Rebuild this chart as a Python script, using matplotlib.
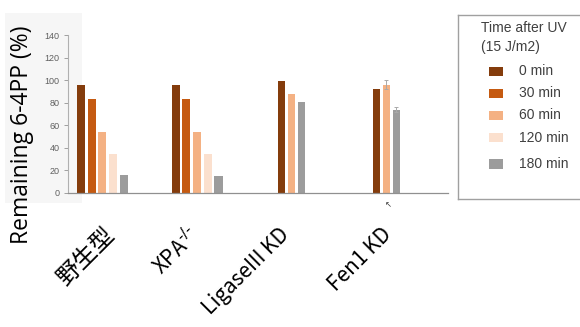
import numpy as np
import matplotlib
matplotlib.use("Agg")
import matplotlib.pyplot as plt
from matplotlib.patches import Rectangle
from matplotlib.lines import Line2D
from matplotlib.transforms import ScaledTranslation

categories = ['野生型', 'XPA$^{\\text{-/-}}$', 'LigaseIII KD', 'Fen1 KD']
times = ['0 min', '30 min', '60 min', '120 min', '180 min']
colors = ['#843C0C', '#C55A11', '#F4B183', '#FBE0CE', '#9C9C9C']

wild_type = [96, 83, 54, 34, 16]
xpa = [96, 83, 54, 34, 15]
ligase = [99, np.nan, 88, np.nan, 81]
fen1 = [92, np.nan, 96, np.nan, 74]
fen1_err = [0, np.nan, 4, np.nan, 2]

groups = [wild_type, xpa, ligase, fen1]
errors = [None, None, None, fen1_err]

W, H = 580, 327
fig = plt.figure(figsize=(W / 100, H / 100), dpi=100)

# faint grey panel behind the left part
fig.patches.append(Rectangle((5 / W, 1 - 203 / H), 77 / W, 190 / H,
                             transform=fig.transFigure, facecolor='#f6f6f6',
                             edgecolor='none', zorder=0))

ax = fig.add_axes([68 / W, 1 - 192.7 / H, (448 - 68) / W, (192.7 - 35.3) / H])
ax.set_facecolor('none')
ax.set_zorder(3)

for gi, vals in enumerate(groups):
    present = [i for i, v in enumerate(vals) if not np.isnan(v)]
    n = len(present)
    if n == 5:
        slot, width = 0.113, 0.085
    else:
        slot, width = 0.105, 0.074
    for k, i in enumerate(present):
        x = gi + (k - (n - 1) / 2) * slot
        err = None
        if errors[gi] is not None and errors[gi][i] > 0:
            err = errors[gi][i]
        ax.bar(x, vals[i], width=width, color=colors[i], yerr=err,
               error_kw=dict(ecolor='#aaaaaa', elinewidth=0.7, capsize=1.2, capthick=0.7))

ax.set_xlim(-0.364, 3.65)
ax.set_ylim(0, 140)
ax.set_yticks(range(0, 141, 20))
ax.tick_params(axis='y', labelsize=6.5, colors='#a0a0a0', labelcolor='#606060',
               length=3, width=0.7, pad=3)
for t in ax.get_yticklabels():
    t.set_family('Liberation Sans')

ax.set_xticks(range(len(categories)))
ax.set_xticklabels(categories, rotation=45, ha='right', va='top', fontsize=15,
                   family=['Noto Sans CJK JP', 'DejaVu Sans'])
ax.tick_params(axis='x', length=0, pad=22)
shifts = [17, 7, 2, 10]
for t, dx in zip(ax.get_xticklabels(), shifts):
    t.set_transform(t.get_transform() + ScaledTranslation(dx / 100, 0, fig.dpi_scale_trans))
ax.get_xticklabels()[0].set_fontsize(17)

for s in ['top', 'right']:
    ax.spines[s].set_visible(False)
ax.spines['left'].set_color('#b0b0b0')
ax.spines['bottom'].set_color('#909090')
ax.spines['left'].set_linewidth(0.8)
ax.spines['bottom'].set_linewidth(0.9)

fig.text(22 / W, 1 - 135 / H, 'Remaining 6-4PP (%)', rotation=90, fontsize=16.5,
         ha='center', va='center', family='Open Sans')

fig.text(388 / W, 1 - 205 / H, '↖', fontsize=6, ha='center', va='center', color='#333333')

# legend box, open on the right (cut off by the image edge)
bx0, bx1, by0, by1 = 457.7 / W, 1.0, 1 - 199 / H, 1 - 15 / H
for xs, ys in [([bx0, bx0], [by0, by1]), ([bx0, bx1], [by1, by1]), ([bx0, bx1], [by0, by0])]:
    fig.add_artist(Line2D(xs, ys, transform=fig.transFigure, color='#a0a0a0', linewidth=1))
fig.text(481 / W, 1 - 28 / H, 'Time after UV', fontsize=10, color='#404040',
         ha='left', va='center', family='Liberation Sans')
fig.text(481 / W, 1 - 47 / H, '(15 J/m2)', fontsize=10, color='#404040',
         ha='left', va='center', family='Liberation Sans')
rows = [71, 93, 115, 138, 164]
for c, lab, yc in zip(colors, times, rows):
    fig.patches.append(Rectangle((489 / W, 1 - (yc + 4.5) / H), 14 / W, 9 / H,
                                 transform=fig.transFigure, facecolor=c,
                                 edgecolor='none', zorder=2))
    fig.text(519 / W, 1 - yc / H, lab, fontsize=10, color='#404040',
             ha='left', va='center', family='Liberation Sans')

fig.savefig('out.png', dpi=100)
